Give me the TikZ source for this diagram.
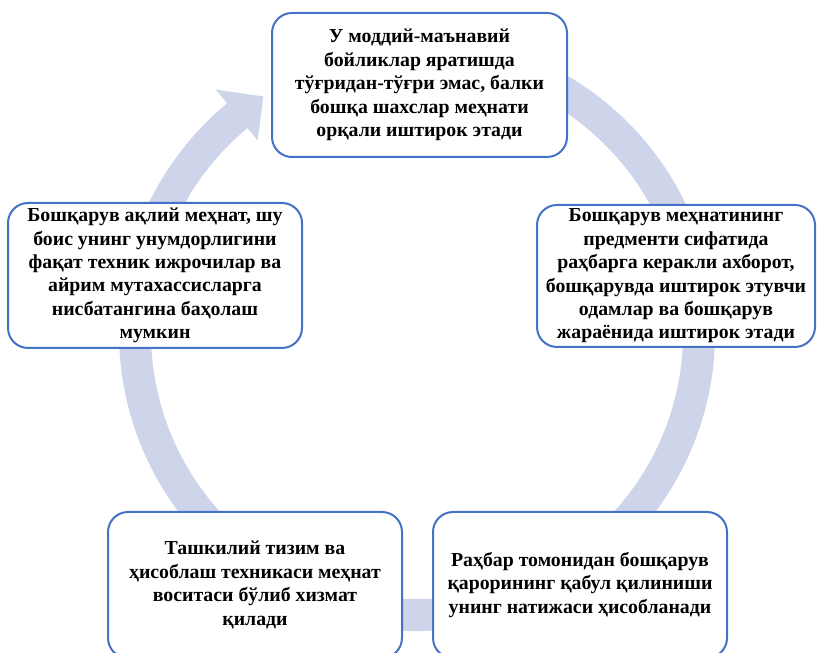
\documentclass[tikz,border=0pt]{standalone}
\usepackage{fontspec}
\setmainfont{Liberation Serif}
\usetikzlibrary{calc}
\definecolor{bandcol}{RGB}{206,213,234}
\definecolor{boxline}{RGB}{68,114,196}
\begin{document}
\begin{tikzpicture}[x=1pt,y=1pt,
  box/.style={draw=boxline, line width=2pt, fill=white, rounded corners=20pt,
    align=center, inner sep=0pt, font=\fontsize{19.8}{23.4}\selectfont\bfseries,
    text=black},
  band/.style={draw=bandcol, line width=32pt}]
\useasboundingbox (0,0) rectangle (817,653);
\coordinate (c) at (417,320);
% circular arrow band
\draw[band] (c) ++(100:282) arc[start angle=100, end angle=-230.4, radius=282];
\fill[bandcol] ($(c)+(129.6:316)$) -- ($(c)+(123:282)$) -- ($(c)+(129.6:250)$) -- cycle;
% boxes
\node[box, minimum width=295, minimum height=144] (top) at (419.5,568)
 {У моддий-маънавий\\бойликлар яратишда\\тўғридан-тўғри эмас, балки\\бошқа шахслар меҳнати\\орқали иштирок этади};
\node[box, minimum width=278, minimum height=142] (right) at (676,377)
 {Бошқарув меҳнатининг\\предменти сифатида\\раҳбарга керакли ахборот,\\бошқарувда иштирок этувчи\\одамлар ва бошқарув\\жараёнида иштирок этади};
\node[box, minimum width=294, minimum height=145] (left) at (155,377.5)
 {Бошқарув ақлий меҳнат, шу\\боис унинг унумдорлигини\\фақат техник ижрочилар ва\\айрим мутахассисларга\\нисбатангина баҳолаш\\мумкин};
\node[box, minimum width=294, minimum height=146] (bl) at (255,68)
 {Ташкилий тизим ва\\ҳисоблаш техникаси меҳнат\\воситаси бўлиб хизмат\\қилади};
\node[box, minimum width=294, minimum height=146] (br) at (580,68)
 {Раҳбар томонидан бошқарув\\қарорининг қабул қилиниши\\унинг натижаси ҳисобланади};
\end{tikzpicture}
\end{document}
